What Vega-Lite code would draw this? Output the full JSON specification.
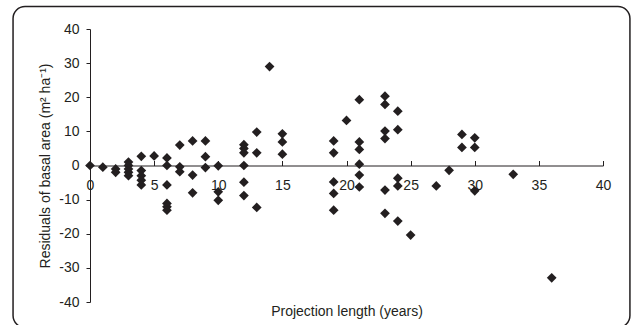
{
  "$schema": "https://vega.github.io/schema/vega-lite/v6.json",
  "width": 513,
  "height": 273,
  "autosize": {"type": "none"},
  "padding": {"left": 90, "top": 29, "right": 29, "bottom": 23},
  "background": "white",
  "config": {
    "view": {"stroke": null},
    "font": "Liberation Sans",
    "axis": {"grid": false, "domainColor": "#231f20", "tickColor": "#231f20", "labelColor": "#231f20", "titleColor": "#231f20", "labelFont": "Liberation Sans", "titleFont": "Liberation Sans", "titleFontWeight": "normal", "labelFontSize": 14, "titleFontSize": 14, "labelFlush": false, "labelOverlap": false}
  },
  "data": {"values": [
    {"x": 0, "y": 0},
    {"x": 1, "y": -0.5},
    {"x": 2, "y": -1}, {"x": 2, "y": -2},
    {"x": 3, "y": 1}, {"x": 3, "y": 0}, {"x": 3, "y": -1}, {"x": 3, "y": -2}, {"x": 3, "y": -3},
    {"x": 4, "y": 2.7}, {"x": 4, "y": -1.5}, {"x": 4, "y": -3}, {"x": 4, "y": -4.3}, {"x": 4, "y": -5.7},
    {"x": 5, "y": 2.8},
    {"x": 6, "y": 2.2}, {"x": 6, "y": 0}, {"x": 6, "y": -5.7}, {"x": 6, "y": -11.1}, {"x": 6, "y": -12.1}, {"x": 6, "y": -13.1},
    {"x": 7, "y": 6}, {"x": 7, "y": -0.4}, {"x": 7, "y": -1.8},
    {"x": 8, "y": 7.2}, {"x": 8, "y": -2.8}, {"x": 8, "y": -8},
    {"x": 9, "y": 7.2}, {"x": 9, "y": 2.6}, {"x": 9, "y": -0.6},
    {"x": 10, "y": -0.1}, {"x": 10, "y": -7.7}, {"x": 10, "y": -10.2},
    {"x": 12, "y": 6.1}, {"x": 12, "y": 5}, {"x": 12, "y": 3.7}, {"x": 12, "y": 0}, {"x": 12, "y": -4.9}, {"x": 12, "y": -8.8},
    {"x": 13, "y": 9.8}, {"x": 13, "y": 3.7}, {"x": 13, "y": -12.3},
    {"x": 14, "y": 29},
    {"x": 15, "y": 9.3}, {"x": 15, "y": 6.9}, {"x": 15, "y": 3.3},
    {"x": 19, "y": 7.2}, {"x": 19, "y": 3.7}, {"x": 19, "y": -4.8}, {"x": 19, "y": -8.2}, {"x": 19, "y": -13.1},
    {"x": 20, "y": 13.2},
    {"x": 21, "y": 19.3}, {"x": 21, "y": 6.9}, {"x": 21, "y": 4.7}, {"x": 21, "y": 0.4}, {"x": 21, "y": -2.8}, {"x": 21, "y": -6.3},
    {"x": 23, "y": 20.3}, {"x": 23, "y": 17.9}, {"x": 23, "y": 10.1}, {"x": 23, "y": 7.9}, {"x": 23, "y": -7.2}, {"x": 23, "y": -14},
    {"x": 24, "y": 15.9}, {"x": 24, "y": 10.5}, {"x": 24, "y": -3.7}, {"x": 24, "y": -6}, {"x": 24, "y": -16.3},
    {"x": 25, "y": -20.4},
    {"x": 27, "y": -6},
    {"x": 28, "y": -1.4},
    {"x": 29, "y": 9.1}, {"x": 29, "y": 5.3},
    {"x": 30, "y": 8.1}, {"x": 30, "y": 5.3}, {"x": 30, "y": -7.4},
    {"x": 33, "y": -2.6},
    {"x": 36, "y": -32.9}
  ]},
  "layer": [
    {
      "mark": {"type": "point", "shape": "diamond", "filled": true, "size": 95, "color": "#231f20", "opacity": 1},
      "encoding": {
        "x": {"field": "x", "type": "quantitative", "scale": {"domain": [0, 40], "nice": false, "zero": false},
          "axis": {"title": "Projection length (years)", "offset": -136.5, "tickCount": 20, "values": [0, 5, 10, 15, 20, 25, 30, 35, 40], "tickSize": -5, "labelPadding": 18, "titlePadding": 112, "labelExpr": "'' + datum.value"}},
        "y": {"field": "y", "type": "quantitative", "scale": {"domain": [-40, 40], "nice": false, "zero": false},
          "axis": {"title": "Residuals of basal area (m² ha⁻¹)", "tickCount": 20, "values": [-40, -30, -20, -10, 0, 10, 20, 30, 40], "tickSize": 4, "labelPadding": 7, "titlePadding": 6, "labelExpr": "'' + datum.value"}}
      }
    },
    {
      "data": {"values": [{}]},
      "mark": {"type": "rect", "fill": "transparent", "stroke": "#231f20", "strokeWidth": 1.5, "cornerRadius": 12},
      "encoding": {
        "x": {"datum": -6, "type": "quantitative",
          "axis": {"title": "Projection length (years)", "offset": -136.5, "tickCount": 20, "values": [0, 5, 10, 15, 20, 25, 30, 35, 40], "tickSize": -5, "labelPadding": 18, "titlePadding": 112, "labelExpr": "'' + datum.value"}},
        "x2": {"datum": 42.1},
        "y": {"datum": 46.6, "type": "quantitative",
          "axis": {"title": "Residuals of basal area (m² ha⁻¹)", "tickCount": 20, "values": [-40, -30, -20, -10, 0, 10, 20, 30, 40], "tickSize": 4, "labelPadding": 7, "titlePadding": 6, "labelExpr": "'' + datum.value"}},
        "y2": {"datum": -47.5}
      }
    }
  ]
}
